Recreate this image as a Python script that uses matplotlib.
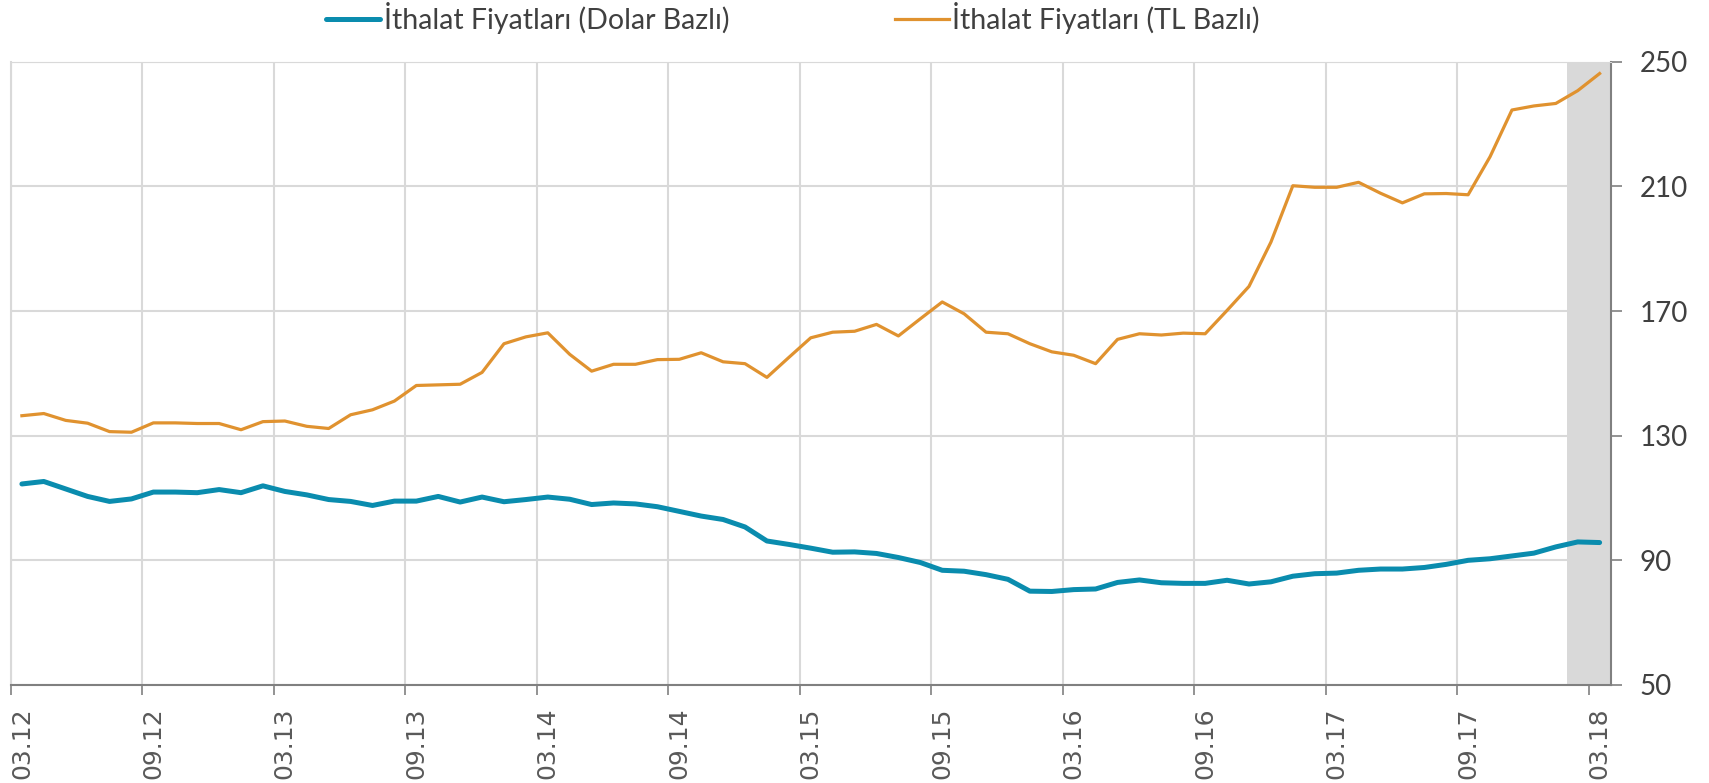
import matplotlib.pyplot as plt
import numpy as np

plt.rcParams['font.family'] = ['Lato', 'DejaVu Sans']

# aylık veriler 03.12 - 03.18
tick_labels = ['03.12', '09.12', '03.13', '09.13', '03.14', '09.14', '03.15',
               '09.15', '03.16', '09.16', '03.17', '09.17', '03.18']

dolar = [114.5, 115.3, 112.9, 110.5, 108.9, 109.7, 111.9, 111.9, 111.7, 112.7,
         111.7, 113.9, 112.1, 111.0, 109.5, 108.9, 107.6, 109.0, 109.0, 110.5,
         108.7, 110.3, 108.8, 109.5, 110.3, 109.6, 107.9, 108.4, 108.1, 107.2,
         105.7, 104.2, 103.1, 100.7, 96.2, 95.1, 93.9, 92.6, 92.7, 92.2,
         90.9, 89.3, 86.8, 86.5, 85.4, 83.9, 80.1, 80.0, 80.6, 80.8,
         82.9, 83.7, 82.8, 82.6, 82.6, 83.6, 82.4, 83.1, 84.9, 85.7,
         85.9, 86.8, 87.2, 87.2, 87.7, 88.7, 90.0, 90.5, 91.4, 92.3,
         94.3, 95.9, 95.7]

tl = [136.4, 137.1, 134.9, 134.0, 131.3, 131.1, 134.1, 134.1, 133.9, 133.9,
      131.9, 134.5, 134.7, 133.0, 132.3, 136.7, 138.3, 141.1, 146.1, 146.3,
      146.5, 150.3, 159.5, 161.7, 163.0, 156.1, 150.7, 152.9, 152.9, 154.4,
      154.5, 156.6, 153.7, 153.1, 148.7, 155.1, 161.4, 163.2, 163.5, 165.7,
      162.0, 167.5, 172.9, 169.1, 163.2, 162.7, 159.5, 156.9, 155.8, 153.1,
      160.9, 162.7, 162.3, 162.9, 162.7, 170.2, 177.9, 192.1, 210.2, 209.7,
      209.7, 211.3, 207.8, 204.7, 207.6, 207.7, 207.3, 219.5, 234.5, 235.8,
      236.6, 240.7, 246.2]

x = np.arange(len(dolar))

fig = plt.figure(figsize=(17.09, 7.83), dpi=100)
ax = fig.add_axes([0.0064, 0.1252, 0.936, 0.796])

grid_c = '#d9d9d9'
ax.set_axisbelow(True)
ax.grid(True, color=grid_c, linewidth=1.5)

# son iki ay gölgeli
ax.axvspan(70.5, 72.5, color='#d9d9d9', lw=0, zorder=1)

ax.plot(x, dolar, color='#0a8cae', lw=3.6, solid_capstyle='round',
        label='İthalat Fiyatları (Dolar Bazlı)', zorder=3)
ax.plot(x, tl, color='#e0922f', lw=2.3,
        label='İthalat Fiyatları (TL Bazlı)', zorder=3)

ax.set_xlim(-0.5, 72.5)
ax.set_ylim(50, 250)

ax.set_xticks(np.arange(-0.5, 72, 6))
ax.set_xticklabels([])
ax.set_xticks(np.arange(0, 73, 6), minor=True)
ax.set_xticklabels(tick_labels, minor=True, rotation=90, fontsize=18,
                   color='#595959', family='DejaVu Sans')
ax.tick_params(axis='x', which='major', direction='out', length=7,
               color='#808080', width=1.2)
ax.tick_params(axis='x', which='minor', length=0, pad=16)

ax.yaxis.tick_right()
ax.set_yticks([50, 90, 130, 170, 210, 250])
ax.tick_params(axis='y', direction='out', length=8, color='#808080',
               width=1.2, labelsize=20, labelcolor='#404040', pad=13)

ax.spines['top'].set_color(grid_c)
ax.spines['left'].set_color(grid_c)
ax.spines['left'].set_linewidth(1.5)
ax.spines['bottom'].set_color('#808080')
ax.spines['bottom'].set_linewidth(1.5)
ax.spines['right'].set_color('#808080')
ax.spines['right'].set_linewidth(1.5)

fig.legend(loc='upper center', bbox_to_anchor=(0.464, 1.03), ncol=2,
           frameon=False, prop={'size': 20.5},
           handlelength=1.9, handletextpad=0.12, columnspacing=5.8,
           labelcolor='#404040')

plt.savefig('out.png', dpi=100)
